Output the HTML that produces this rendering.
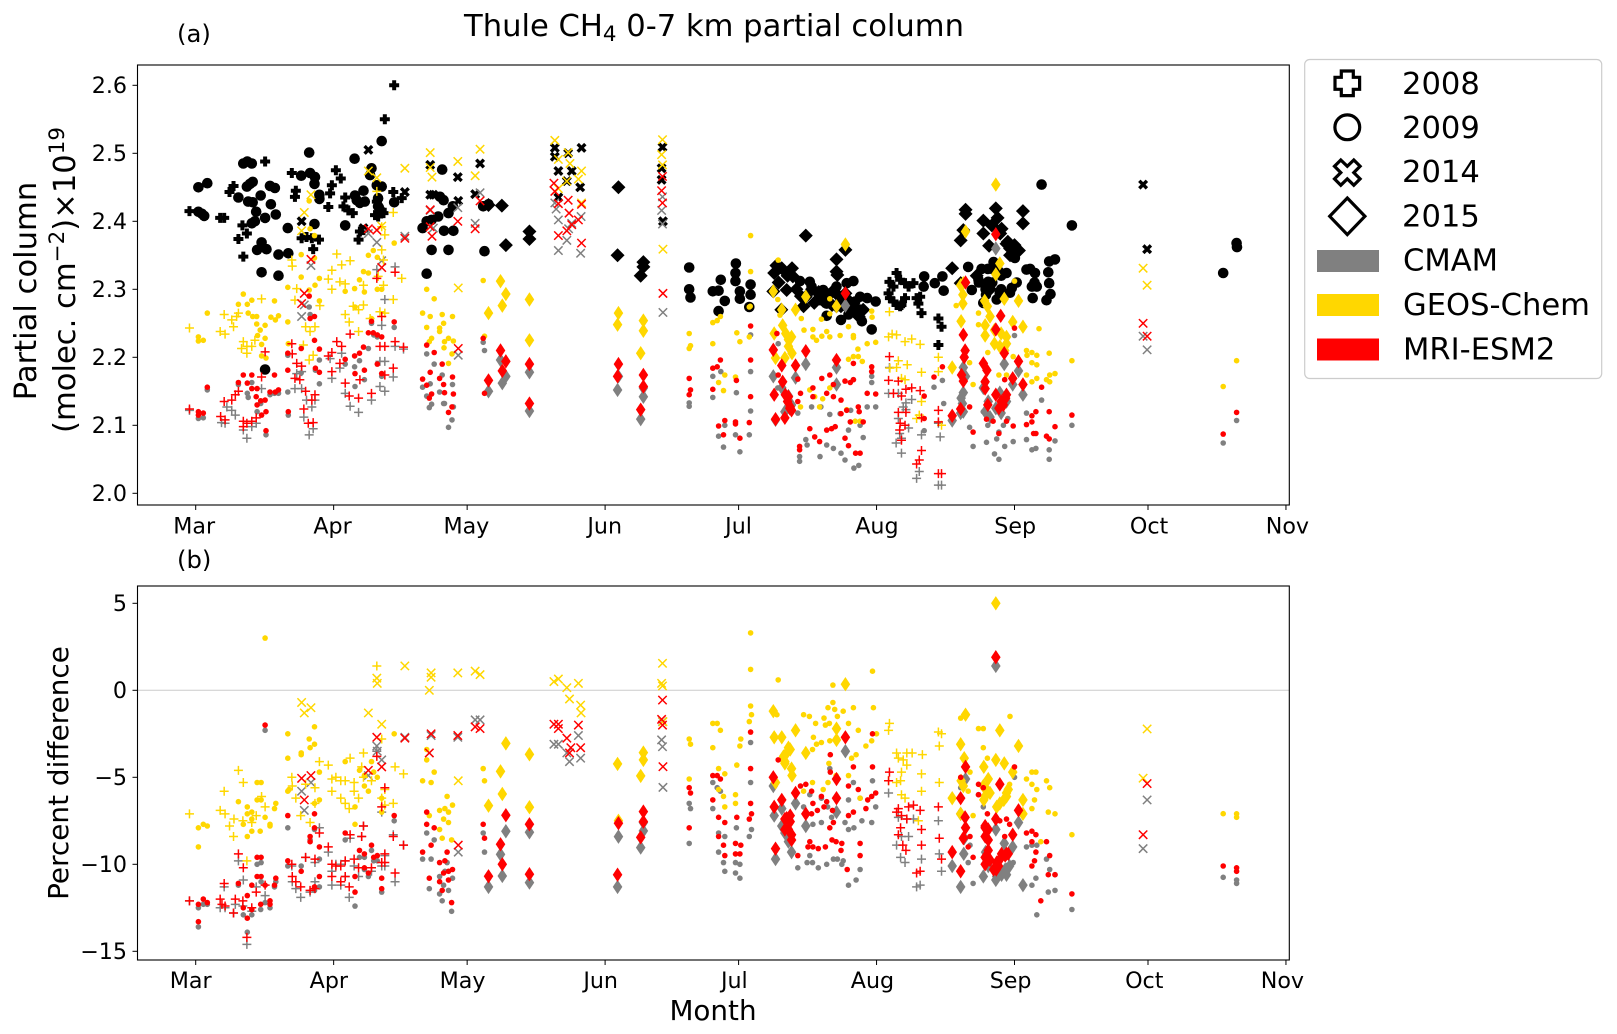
<!DOCTYPE html>
<html lang="en">
<head>
<meta charset="utf-8">
<title>Thule CH4 0-7 km partial column</title>
<style>
html,body{margin:0;padding:0;background:#fff;}
svg{display:block;font-family:"DejaVu Sans","Liberation Sans",sans-serif;}
</style>
</head>
<body>
<svg id="chart" xmlns="http://www.w3.org/2000/svg" width="1617" height="1034" viewBox="0 0 1617 1034">
  <rect x="0" y="0" width="1617" height="1034" fill="#fff"/>
  <text x="714" y="36" font-size="30.6" text-anchor="middle">Thule CH<tspan font-size="21.4" dy="5">4</tspan><tspan dy="-5"> 0-7 km partial column</tspan></text>
  <text x="177" y="42" font-size="24.3">(a)</text>
  <text x="177" y="568" font-size="24.3">(b)</text>
  <text transform="translate(36,291) rotate(-90)" font-size="30.6" text-anchor="middle">Partial column</text>
  <text transform="translate(75,280) rotate(-90)" font-size="30.6" text-anchor="middle">(molec. cm<tspan font-size="21.4" dy="-11">−2</tspan><tspan dy="11">)×10</tspan><tspan font-size="21.4" dy="-11">19</tspan></text>
  <text transform="translate(68,773) rotate(-90)" font-size="27.9" text-anchor="middle">Percent difference</text>
  <text x="713" y="1020" font-size="27.8" text-anchor="middle">Month</text>
  <g id="panelA"></g>
  <g id="panelB"></g>
  <g>
    <rect x="1304.7" y="59.5" width="297" height="319" rx="5" ry="5" fill="#fff" stroke="#ccc" stroke-width="1.2"/>
    <path d="M1341.3 71h12v6.3h6.3v12h-6.3v6.3h-12v-6.3h-6.3v-12h6.3z" fill="#fff" stroke="#000" stroke-width="3.2"/>
    <circle cx="1347.3" cy="127.3" r="12.4" fill="#fff" stroke="#000" stroke-width="3.2"/>
    <path d="M1340.8 160l6.5 6.3 6.5-6.3 6.3 6.3-6.3 6.3 6.3 6.3-6.3 6.3-6.5-6.3-6.5 6.3-6.3-6.3 6.3-6.3-6.3-6.3z" fill="#fff" stroke="#000" stroke-width="3.2"/>
    <path d="M1347.3 198l17.6 18.3-17.6 18.3-17.6-18.3z" fill="#fff" stroke="#000" stroke-width="3.2"/>
    <rect x="1317" y="250" width="62" height="22" fill="#808080"/>
    <rect x="1317" y="294" width="62" height="22" fill="#ffd700"/>
    <rect x="1317" y="338.5" width="62" height="22" fill="#ff0000"/>
    <text x="1402" y="94" font-size="30.6">2008</text>
    <text x="1402" y="138" font-size="30.6">2009</text>
    <text x="1402" y="182" font-size="30.6">2014</text>
    <text x="1402" y="226.5" font-size="30.6">2015</text>
    <text x="1403" y="270.5" font-size="30.6">CMAM</text>
    <text x="1403" y="315" font-size="30.6">GEOS-Chem</text>
    <text x="1403" y="359.5" font-size="30.6">MRI-ESM2</text>
  </g>
</svg>
<script>
// Axis tick data
const monthLabels = ["Mar","Apr","May","Jun","Jul","Aug","Sep","Oct","Nov"];
const monthDays = [0,31,61,92,122,153,184,214,245];
const ticksA = [2.0,2.1,2.2,2.3,2.4,2.5,2.6];
const ticksB = [-15,-10,-5,0,5];

// All series are [days since 1 March, value]. Panel (a): partial column x 1e19.
const obs2008 = [[-1.4,2.415],[44.6,2.6],[42.5,2.55],[15.6,2.488],[21.6,2.471],[31.5,2.475],[32.6,2.463],[30.6,2.453],[8.5,2.452],[7.6,2.443],[30.2,2.441],[22.5,2.445],[22.3,2.436],[33.6,2.435],[33.2,2.422],[34.3,2.416],[35.3,2.412],[29.8,2.421],[44.4,2.443],[46.3,2.434],[5.5,2.405],[6.4,2.405],[11.5,2.382],[10.5,2.394],[9.6,2.374],[10.7,2.348],[23.8,2.375],[24.9,2.377],[26.1,2.375],[27.7,2.373],[26.4,2.359],[36.9,2.385],[36.6,2.373],[37.7,2.387],[40.3,2.409],[42.2,2.412],[41,2.407],[40.7,2.429],[41.8,2.417],[155.9,2.311],[157.5,2.324],[158.3,2.314],[159.4,2.309],[161.3,2.309],[155.7,2.294],[157.5,2.277],[158.6,2.277],[159.4,2.287],[162.8,2.289],[162.4,2.279],[163.1,2.265],[166.9,2.257],[167.6,2.245],[166.9,2.218],[156.8,2.304],[156,2.287],[156.8,2.282],[158.3,2.275],[160.2,2.304],[162,2.287]];
const obs2009 = [[0.6,2.45],[2.6,2.456],[0.6,2.414],[1.4,2.411],[1.9,2.408],[10.7,2.485],[11.6,2.488],[12.6,2.485],[11.5,2.451],[12.2,2.455],[12.8,2.458],[9.6,2.435],[11.8,2.429],[12.8,2.428],[14.6,2.438],[16.9,2.425],[16.7,2.452],[17.8,2.449],[18,2.41],[13.6,2.414],[13.3,2.4],[15.6,2.405],[12.6,2.397],[14.8,2.369],[13.8,2.358],[15.9,2.359],[14.8,2.325],[18.6,2.351],[20.8,2.353],[18.6,2.32],[20.7,2.39],[25.5,2.501],[23.7,2.467],[25.7,2.471],[26.8,2.465],[26.7,2.455],[27.8,2.439],[27.8,2.433],[26.7,2.396],[35.7,2.492],[41.8,2.518],[33.6,2.394],[35.8,2.438],[36.2,2.431],[37.7,2.445],[38,2.429],[36.9,2.427],[39.5,2.478],[39.2,2.468],[40.7,2.453],[41.8,2.451],[41,2.434],[41,2.422],[41.4,2.417],[44.6,2.428],[51.9,2.323],[53,2.358],[51,2.39],[51.9,2.4],[53,2.402],[54.5,2.407],[56.8,2.412],[57.8,2.422],[55.4,2.476],[54.9,2.436],[55.7,2.431],[55.8,2.386],[57.9,2.386],[56.8,2.358],[64.9,2.356],[64.6,2.422],[65.8,2.425],[15.6,2.182],[110.9,2.332],[110.9,2.3],[111.2,2.288],[116.2,2.297],[118,2.314],[117.5,2.298],[118.9,2.283],[117.5,2.268],[121.4,2.338],[121.3,2.324],[121.3,2.312],[122.3,2.297],[122.3,2.286],[124.7,2.307],[124.7,2.292],[124.4,2.274],[135.8,2.312],[138,2.311],[138.4,2.304],[139.9,2.294],[141,2.299],[142.5,2.294],[144,2.304],[146.3,2.309],[147.8,2.312],[140.3,2.284],[141.8,2.279],[141.8,2.261],[145,2.255],[146.7,2.263],[149.3,2.289],[148.2,2.282],[149.3,2.27],[149.7,2.253],[151.9,2.241],[150.9,2.287],[152.8,2.282],[163.7,2.319],[163.6,2.304],[166.1,2.309],[167.8,2.319],[168.1,2.298],[173.6,2.333],[176.6,2.33],[179.3,2.34],[174.4,2.299],[175.9,2.314],[178.1,2.311],[177.6,2.292],[177,2.28],[180.7,2.294],[182.2,2.324],[183.4,2.302],[184.1,2.346],[186.7,2.329],[188.6,2.324],[187.9,2.304],[189,2.304],[188.1,2.287],[191.8,2.341],[193.1,2.344],[191.6,2.325],[191.8,2.309],[192.1,2.293],[191.2,2.284],[190.1,2.454],[196.9,2.394],[233.9,2.368],[234,2.362],[230.9,2.324],[178,2.33],[179,2.33],[180,2.325],[181,2.32],[176,2.31],[179,2.31],[181,2.3],[183,2.295],[177.5,2.3],[180,2.285],[184.5,2.31],[187.5,2.33],[188.5,2.31]];
const obs2014 = [[23.8,2.4],[38.8,2.505],[52.7,2.483],[58.9,2.465],[63.9,2.485],[62.8,2.44],[59,2.43],[52.7,2.439],[47,2.443],[80.7,2.508],[83.7,2.5],[86.7,2.508],[81.5,2.474],[84.5,2.474],[83.4,2.459],[86.4,2.45],[81.5,2.435],[80.7,2.495],[37.7,2.39],[53.4,2.439],[104.9,2.509],[104.7,2.478],[104.7,2.461],[105,2.4],[212.9,2.454],[213.8,2.359]];
const obs2015 = [[65.8,2.424],[68.8,2.423],[69.7,2.365],[75,2.385],[75,2.374],[95,2.45],[94.8,2.35],[100.6,2.34],[100.6,2.333],[100,2.32],[137.1,2.379],[146,2.358],[144,2.344],[144,2.326],[144.2,2.321],[130,2.324],[131.7,2.331],[134,2.331],[134.2,2.319],[132.8,2.299],[129.8,2.297],[131.6,2.27],[136.6,2.275],[137.1,2.289],[146,2.294],[144,2.275],[146,2.276],[173,2.417],[173,2.411],[179.8,2.419],[180.2,2.405],[177,2.401],[185.9,2.415],[185.9,2.397],[177,2.382],[178.9,2.394],[181.1,2.389],[182.2,2.367],[184.5,2.358],[171.9,2.372],[172.5,2.387],[170,2.331],[171.9,2.309],[183,2.36],[180.8,2.382],[178.3,2.364],[175.5,2.32],[180,2.33],[178.5,2.3],[138.5,2.3],[140,2.296],[141.5,2.292],[143,2.296],[144.5,2.29],[146.5,2.285],[148,2.27],[150,2.27],[139,2.28],[141,2.283],[143,2.277],[145,2.275],[147,2.27],[149,2.26],[182.5,2.37],[184,2.365],[185,2.357],[183,2.35],[133,2.32],[131,2.31],[135,2.3],[136,2.29],[130.5,2.335]];

const cmam2008A = [[-1.4,2.122],[5.8,2.104],[6.6,2.103],[7,2.127],[8.1,2.122],[8.9,2.115],[14.8,2.154],[10.7,2.093],[11.5,2.081],[12.6,2.098],[13.6,2.103],[22.7,2.176],[23.8,2.179],[22.3,2.154],[23.8,2.154],[24.3,2.112],[24.9,2.137],[26.8,2.137],[26.1,2.127],[26.4,2.095],[25.5,2.086],[30.2,2.198],[30.6,2.169],[32.8,2.206],[32.4,2.184],[33.6,2.147],[34.7,2.128],[36.6,2.119],[39.5,2.137],[41.4,2.194],[42.5,2.194],[41.8,2.247],[42.5,2.285],[40.7,2.329],[44.8,2.333],[44.8,2.216],[46.7,2.212],[44.4,2.171],[41.4,2.157],[42.5,2.15],[155.9,2.185],[155.7,2.147],[157.9,2.147],[159.6,2.133],[160.9,2.138],[159,2.127],[157.9,2.11],[159.6,2.123],[158.2,2.088],[160.2,2.096],[158.6,2.081],[157.4,2.074],[158.6,2.059],[163.1,2.086],[162.6,2.032],[162,2.022],[166.9,2.012],[167.6,2.012],[166.9,2.103],[167.3,2.083]];
const geos2008A = [[-1.4,2.243],[6.4,2.263],[5.5,2.238],[6.6,2.234],[8.1,2.255],[8.5,2.245],[9.2,2.26],[9.6,2.265],[10.7,2.223],[10.3,2.213],[11.5,2.206],[11.5,2.216],[12.6,2.216],[13.3,2.225],[14.8,2.286],[21.6,2.343],[21.7,2.334],[31.7,2.352],[34.7,2.342],[32.8,2.336],[30.6,2.328],[29.8,2.315],[32.4,2.311],[33.6,2.308],[30.6,2.3],[37.7,2.306],[41.8,2.358],[42.2,2.343],[42.5,2.38],[44.4,2.413],[40.7,2.444],[41.8,2.392],[46.3,2.316],[44.4,2.285],[27.9,2.276],[22.7,2.301],[22.3,2.284],[24.2,2.218],[24.7,2.245],[26.8,2.245],[25.7,2.238],[26.4,2.203],[25.5,2.196],[37.7,2.277],[35.4,2.275],[33.6,2.263],[34.5,2.252],[36.6,2.27],[36.6,2.238],[39.2,2.257],[41.4,2.267],[42.5,2.265],[42.2,2.306],[41,2.319],[155.9,2.267],[155.7,2.23],[156.5,2.234],[157.5,2.233],[160.9,2.227],[159.4,2.223],[162.8,2.219],[157.9,2.195],[159.9,2.189],[157.5,2.185],[156,2.184],[166.9,2.2],[166.9,2.179],[163.1,2.178],[158.6,2.169],[159.4,2.167],[163.1,2.135],[162.6,2.115],[162,2.11],[167.6,2.1]];
const mri2008A = [[-1.4,2.124],[5.6,2.113],[6.6,2.108],[6.4,2.135],[8.1,2.137],[8.9,2.145],[9.6,2.15],[10.7,2.106],[10.7,2.098],[11.5,2.103],[12.6,2.106],[13.6,2.111],[14.8,2.171],[15.6,2.208],[21.6,2.22],[21.7,2.205],[22.7,2.191],[23.8,2.187],[22.3,2.169],[23.4,2.167],[24.7,2.15],[26.8,2.145],[26.1,2.137],[24.3,2.124],[26.4,2.104],[25.3,2.103],[30.6,2.207],[29.8,2.202],[30.6,2.179],[31.7,2.223],[32.8,2.216],[32.4,2.191],[33.6,2.162],[34.7,2.234],[34.5,2.143],[36.6,2.14],[36.9,2.167],[39.5,2.147],[41.4,2.216],[42.5,2.216],[41.8,2.26],[40.7,2.316],[44.8,2.325],[44.8,2.223],[46.7,2.215],[44.4,2.184],[42.5,2.174],[155.9,2.201],[155.7,2.166],[157.9,2.165],[156.8,2.147],[160.9,2.155],[159.6,2.153],[162.8,2.151],[158.6,2.143],[157.9,2.119],[159.6,2.119],[163.1,2.111],[166.9,2.122],[166.9,2.105],[158.3,2.103],[159.4,2.1],[158.2,2.093],[158.6,2.078],[163.1,2.063],[162.6,2.049],[162,2.043],[166.9,2.029],[167.6,2.029]];

const cmam2009A = [[2.6,2.152],[0.6,2.11],[1.7,2.111],[9.6,2.16],[11.6,2.147],[12.6,2.163],[13.8,2.12],[11.8,2.141],[14.6,2.132],[15.8,2.086],[17.7,2.147],[16.7,2.145],[18.6,2.147],[20.8,2.115],[20.7,2.149],[20.7,2.203],[23.7,2.177],[25.7,2.263],[27.8,2.196],[26.9,2.181],[27.8,2.161],[25.5,2.274],[33.6,2.19],[35.7,2.186],[36.8,2.195],[38.8,2.213],[40,2.233],[40.8,2.23],[37.9,2.167],[41.8,2.172],[35.8,2.157],[39.5,2.25],[44.6,2.244],[51,2.156],[51.9,2.205],[53.6,2.19],[52.7,2.161],[55.4,2.174],[57.7,2.16],[51.9,2.143],[54.8,2.149],[55.7,2.132],[53,2.131],[52.5,2.126],[55.9,2.132],[57.9,2.127],[56.8,2.097],[57.6,2.108],[64.6,2.222],[64.9,2.21],[110.9,2.133],[110.9,2.128],[116.2,2.172],[116.2,2.141],[118,2.179],[117.5,2.084],[118.9,2.1],[118.6,2.068],[121.5,2.148],[121.3,2.086],[122.3,2.061],[124.7,2.179],[124.4,2.086],[124.7,2.121],[124.7,2.233],[130.9,2.22],[130.8,2.155],[135.3,2.118],[135.7,2.054],[135.7,2.047],[137.1,2.079],[137.4,2.071],[140.3,2.054],[141.8,2.071],[143.3,2.066],[145,2.059],[145.9,2.049],[147.9,2.037],[149,2.041],[138.4,2.127],[140.5,2.127],[142.5,2.116],[144.8,2.117],[147.2,2.122],[150,2.082],[150.9,2.127],[152.8,2.127],[151.9,2.172],[151.9,2.163],[147.8,2.167],[146.7,2.093],[149.3,2.1],[163.7,2.092],[165.9,2.156],[167.8,2.166],[168.1,2.132],[174.7,2.069],[173.9,2.097],[177.7,2.075],[179.5,2.058],[180.5,2.05],[181.8,2.069],[183.7,2.076],[184,2.232],[186.7,2.118],[186.7,2.079],[187.9,2.064],[188.8,2.066],[190.1,2.137],[191.8,2.05],[191.8,2.064],[193.1,2.077],[196.9,2.1],[230.9,2.074],[233.9,2.107],[180.5,2.09],[181.5,2.1],[182.5,2.11],[180,2.08],[177,2.12],[178,2.1]];
const geos2009A = [[2.6,2.265],[0.6,2.23],[0.6,2.224],[1.7,2.225],[9.6,2.278],[10.7,2.293],[11.6,2.278],[12.6,2.284],[11.8,2.265],[12.8,2.26],[13.7,2.26],[13.7,2.249],[15.6,2.247],[14.5,2.24],[13.9,2.232],[15.6,2.228],[14.8,2.219],[14.8,2.202],[15.8,2.199],[16.9,2.259],[17.7,2.283],[17.9,2.255],[18.6,2.261],[20.7,2.252],[20.7,2.303],[20.8,2.22],[23.7,2.351],[23.7,2.318],[25.5,2.43],[25.7,2.389],[26.7,2.379],[26.7,2.346],[27.8,2.316],[26.8,2.306],[25.5,2.299],[27.8,2.283],[33.6,2.297],[35.7,2.301],[36.8,2.314],[37.7,2.326],[38.8,2.324],[37.9,2.296],[40.8,2.3],[41.8,2.3],[38.8,2.35],[39.9,2.357],[40.8,2.347],[44.6,2.368],[35.8,2.274],[39.5,2.257],[51,2.265],[51.9,2.3],[53.6,2.286],[52.7,2.26],[55.4,2.263],[57.7,2.26],[51.9,2.244],[54.8,2.243],[55.7,2.25],[54.8,2.238],[53,2.228],[52.5,2.223],[55.9,2.223],[57.9,2.224],[56.8,2.228],[55.8,2.214],[57.6,2.205],[56.8,2.191],[64.6,2.313],[64.9,2.231],[124.7,2.379],[124.7,2.326],[124.4,2.274],[124.6,2.275],[110.9,2.235],[111.2,2.217],[110.9,2.213],[116.2,2.251],[117.2,2.254],[117.9,2.26],[116.2,2.22],[121.6,2.236],[122.3,2.223],[118.9,2.174],[117.5,2.163],[118.6,2.151],[121.3,2.171],[124.4,2.23],[130.9,2.343],[130.8,2.285],[131.3,2.262],[136.7,2.24],[136.1,2.257],[140.6,2.256],[142.5,2.286],[142.5,2.264],[146.7,2.245],[147.8,2.232],[144.8,2.232],[142.5,2.23],[141.8,2.238],[140.7,2.231],[138.7,2.241],[138.7,2.23],[139.5,2.225],[151.9,2.268],[152,2.259],[150.9,2.22],[152.8,2.222],[147.8,2.229],[148.8,2.212],[146.7,2.197],[147.8,2.201],[148.9,2.201],[149.8,2.194],[138,2.152],[139.1,2.142],[140.9,2.139],[142.5,2.155],[140.2,2.127],[135.9,2.127],[146.3,2.123],[149.3,2.106],[148.2,2.106],[170.9,2.276],[189.5,2.242],[175.9,2.265],[175.9,2.248],[184,2.312],[178,2.207],[173.9,2.192],[174.7,2.16],[180.5,2.174],[182.2,2.174],[183.7,2.201],[186.7,2.21],[186.8,2.203],[187.9,2.207],[189,2.203],[187.9,2.192],[189,2.189],[186.7,2.174],[187.9,2.164],[189,2.169],[191.2,2.167],[191.9,2.164],[191.9,2.174],[193.1,2.176],[191.8,2.206],[196.9,2.195],[230.9,2.157],[233.9,2.195]];
const mri2009A = [[2.6,2.156],[0.6,2.12],[0.6,2.115],[1.7,2.118],[9.6,2.163],[10.7,2.174],[12.6,2.174],[11.6,2.162],[12.6,2.154],[13.8,2.154],[13.6,2.142],[15.6,2.137],[14.6,2.136],[13.8,2.13],[15.8,2.12],[14.8,2.115],[15.8,2.092],[17.7,2.174],[16.7,2.149],[17.9,2.149],[18.6,2.152],[20.8,2.12],[20.7,2.206],[20.7,2.181],[23.7,2.213],[25.7,2.257],[26.7,2.26],[26.7,2.225],[27.8,2.212],[26.9,2.184],[27.8,2.178],[25.5,2.29],[33.6,2.197],[35.7,2.202],[36.8,2.206],[37.7,2.215],[38.8,2.236],[39.9,2.236],[40.8,2.233],[41.8,2.23],[37.9,2.181],[40.8,2.19],[41.8,2.176],[44.6,2.252],[35.8,2.176],[39.5,2.253],[51,2.168],[51.9,2.218],[53.6,2.207],[52.7,2.178],[55.4,2.19],[57.7,2.171],[51.9,2.159],[54.8,2.169],[55.7,2.16],[53,2.146],[52.5,2.14],[55.9,2.148],[57.9,2.146],[56.8,2.119],[57.6,2.127],[64.6,2.228],[64.9,2.147],[124.7,2.196],[124.7,2.246],[124.7,2.142],[124.4,2.104],[110.9,2.169],[111.2,2.152],[110.9,2.145],[116.2,2.184],[117.2,2.186],[117.9,2.196],[116.2,2.153],[117.5,2.099],[118.9,2.107],[118.6,2.086],[121.5,2.166],[121.3,2.105],[121.3,2.102],[122.3,2.081],[130.9,2.174],[130.6,2.235],[135.3,2.168],[135.3,2.135],[135.9,2.147],[135.7,2.069],[135.7,2.064],[138.7,2.155],[138.7,2.142],[140.7,2.169],[142.5,2.174],[143.3,2.16],[141.8,2.147],[143.3,2.142],[145,2.137],[145.9,2.165],[147.1,2.163],[147.8,2.191],[147.8,2.167],[151.9,2.186],[151.9,2.179],[150.9,2.147],[152.8,2.146],[145,2.117],[146.3,2.122],[147.1,2.105],[148.9,2.127],[149.1,2.12],[150,2.105],[138,2.095],[139.1,2.083],[140.2,2.076],[141.8,2.093],[142.9,2.095],[143.7,2.098],[145.9,2.081],[146.7,2.07],[148.3,2.059],[149.3,2.059],[165.9,2.171],[167.8,2.186],[163.7,2.143],[163.7,2.11],[181,2.127],[173.9,2.127],[174.7,2.09],[177.7,2.109],[179.2,2.106],[180.5,2.088],[182.2,2.106],[183.7,2.099],[184,2.243],[181.8,2.167],[186.7,2.101],[187.9,2.114],[188.8,2.12],[187.9,2.105],[188.8,2.088],[188.3,2.088],[190.1,2.156],[191.2,2.084],[191.8,2.12],[191.8,2.08],[193.1,2.098],[196.9,2.115],[230.9,2.087],[233.9,2.119]];

const cmam2014A = [[23.8,2.26],[24.4,2.277],[25.9,2.335],[38.8,2.382],[40.7,2.369],[41.8,2.342],[47,2.378],[52.7,2.416],[53.4,2.39],[58.9,2.42],[59,2.203],[62.8,2.397],[63.9,2.442],[80.7,2.427],[81,2.418],[81.5,2.402],[86.6,2.407],[84.5,2.397],[83.8,2.389],[83.4,2.372],[81.5,2.357],[86.5,2.353],[104.9,2.436],[104.7,2.416],[104.9,2.396],[105,2.266],[212.9,2.231],[213.8,2.211]];
const geos2014A = [[23.8,2.386],[24.4,2.413],[25.9,2.439],[38.8,2.474],[40.7,2.464],[41.8,2.393],[47,2.478],[52.7,2.501],[52.7,2.479],[53.1,2.465],[58.9,2.488],[59,2.302],[62.8,2.467],[63.9,2.506],[80.7,2.519],[81.5,2.491],[83.7,2.501],[84.1,2.485],[86.7,2.474],[86,2.462],[83.4,2.459],[81.5,2.448],[86.7,2.427],[104.9,2.52],[104.7,2.498],[104.9,2.483],[105,2.359],[212.9,2.331],[213.8,2.306]];
const mri2014A = [[23.8,2.279],[24.4,2.294],[25.9,2.344],[38.8,2.389],[40.7,2.387],[41.8,2.332],[47,2.375],[52.7,2.417],[52.7,2.392],[53.1,2.378],[58.9,2.4],[59,2.213],[62.8,2.389],[63.9,2.43],[80.5,2.456],[80.7,2.444],[81.5,2.426],[83.7,2.431],[83.9,2.412],[86.7,2.425],[86,2.402],[84.5,2.395],[83.4,2.386],[81.5,2.379],[86.7,2.368],[104.9,2.466],[104.7,2.445],[104.9,2.427],[105,2.294],[212.9,2.25],[213.8,2.231]];

const cmam2015A = [[65.8,2.15],[68.5,2.196],[69.7,2.172],[68.9,2.162],[75,2.178],[75,2.121],[95,2.172],[94.8,2.152],[100.6,2.142],[100.6,2.155],[100,2.109],[146,2.276],[129.8,2.172],[130.3,2.108],[131.7,2.155],[132.4,2.12],[133.2,2.143],[133.9,2.13],[134.8,2.17],[137.1,2.19],[144,2.185],[144,2.16],[170,2.107],[171.9,2.118],[172.5,2.185],[173,2.172],[172.5,2.148],[172.3,2.132],[177,2.155],[177.4,2.12],[178.1,2.135],[179.8,2.36],[179.8,2.125],[180.7,2.148],[181.7,2.19],[182.2,2.135],[183.6,2.16],[184.9,2.18],[185.9,2.145],[172,2.14],[172.5,2.12],[178.5,2.112],[181,2.118]];
const geos2015A = [[65.8,2.265],[68.5,2.312],[69.7,2.293],[68.9,2.276],[75,2.285],[75,2.225],[95,2.265],[94.8,2.248],[100.6,2.254],[100.6,2.239],[100,2.206],[137.1,2.289],[146,2.366],[129.8,2.297],[131.7,2.27],[134.8,2.27],[144,2.275],[130,2.235],[131.9,2.247],[133.2,2.226],[133.9,2.23],[133.2,2.216],[134,2.206],[132.4,2.199],[130.3,2.199],[179.8,2.454],[173,2.385],[172.5,2.309],[171.9,2.306],[172.4,2.292],[172.4,2.279],[172,2.253],[170,2.185],[177.9,2.275],[177.3,2.283],[181.7,2.286],[184.9,2.283],[180.7,2.338],[179.8,2.322],[183.6,2.252],[185.9,2.245],[177.4,2.247],[177.4,2.232],[179.5,2.22],[182.2,2.23],[182.2,2.22],[180.7,2.216],[179.5,2.24],[181,2.235],[181.8,2.21],[178.5,2.26],[132.6,2.235]];
const mri2015A = [[65.8,2.166],[68.5,2.21],[69.7,2.194],[68.9,2.18],[75,2.19],[75,2.132],[95,2.19],[94.8,2.172],[100.6,2.174],[100.6,2.157],[100,2.123],[146,2.294],[129.8,2.211],[137.1,2.209],[131.7,2.188],[134.8,2.188],[144,2.196],[131.9,2.164],[130,2.145],[133.2,2.142],[133.6,2.127],[133.9,2.122],[130.3,2.109],[132.4,2.111],[179.8,2.381],[173,2.31],[172.5,2.233],[172.9,2.21],[172.7,2.2],[172.1,2.174],[172.5,2.165],[170,2.114],[171.9,2.124],[180.9,2.261],[179.8,2.241],[181.7,2.206],[184.9,2.194],[183.6,2.169],[185.9,2.16],[177,2.191],[177.8,2.181],[177.4,2.164],[177.4,2.154],[179.8,2.145],[182.2,2.145],[181,2.135],[180.5,2.125],[181.5,2.13],[182,2.14],[178,2.13],[132.5,2.145],[133,2.135],[133.5,2.125]];

// Panel (b): percent difference
const cmam2008B = [[-1.4,-12.1],[5.5,-12.5],[6.4,-11.3],[6.6,-12.5],[8.5,-12.8],[8.9,-12.3],[9.6,-9.8],[10.7,-10.9],[10.6,-12.4],[11.5,-14.6],[12.6,-12.7],[13.6,-11.3],[15.6,-11.8],[21.6,-10.1],[21.7,-11],[22.5,-11.4],[23.6,-11.9],[24.7,-9.6],[25.7,-11.6],[26.8,-9.9],[26.8,-11],[27.8,-7.9],[29.8,-9.3],[30.6,-10.4],[30.6,-11.2],[31.5,-10],[32.6,-10],[32.6,-11.2],[33.6,-9.8],[33.6,-10.7],[34.5,-11.9],[34.7,-8.5],[35.6,-10.1],[36.6,-10.7],[37.7,-7.8],[37.3,-8.4],[39.5,-10.4],[40.7,-3.5],[41.8,-7],[42.5,-9.5],[41.8,-10.1],[42.5,-10.1],[44.4,-8.3],[44.8,-11],[46.7,-8.9],[155.7,-5.9],[157.9,-7.3],[157.5,-8.9],[159.8,-7.4],[161.3,-7.4],[158.6,-8.4],[160.2,-8.4],[158.4,-9.6],[159.4,-9.9],[163.1,-9.7],[166.9,-7.5],[167.1,-9.4],[167.6,-10.4],[162,-11.3],[162.8,-11.2]];
const geos2008B = [[-1.4,-7.1],[6.4,-5.8],[5.5,-6.9],[6.6,-7.1],[7.6,-7.8],[8.6,-7.4],[8.5,-8.4],[9.6,-4.6],[10.7,-5.3],[10.6,-7.5],[11.5,-9.8],[12.6,-7.6],[13.6,-7.2],[14.8,-6.1],[15.6,-6.7],[21.6,-5],[21.7,-5.5],[22.5,-6.2],[23.6,-7.2],[24.7,-5.4],[25.7,-7.6],[26.8,-5.6],[26.8,-6.5],[27.8,-4.1],[29.8,-4.3],[30.6,-5.8],[30.6,-5.1],[31.5,-5],[32.6,-5.2],[33.6,-5.2],[32.6,-6.2],[33.6,-6.5],[34.5,-6.8],[34.7,-3.9],[35.6,-5.3],[35.6,-5.8],[36.6,-6.2],[37.7,-3.6],[37.3,-4.4],[37.7,-5],[39.5,-5.2],[40.7,1.4],[41.8,-2.8],[42.5,-5.7],[41.8,-6.2],[42.5,-6.6],[44.4,-6.5],[44.8,-4.4],[46.7,-4.8],[155.9,-1.9],[155.7,-2.3],[157.5,-3.6],[157.9,-3.9],[159,-4],[159.8,-4.3],[159.8,-3.6],[161,-3.6],[163.3,-3.7],[158.6,-4.7],[155.7,-5.2],[157.5,-5.3],[158.4,-5.2],[163.1,-4.8],[163.1,-5.8],[158.6,-6],[159.4,-6.2],[166.9,-2.4],[167.6,-2.5],[167.1,-3.2],[167.1,-5.3],[162.4,-7.5]];
const mri2008B = [[-1.4,-12.1],[5.5,-12],[6.4,-11.1],[5.9,-12.3],[6.6,-12.4],[8.5,-12.8],[8.9,-12],[9.6,-9.4],[10.7,-10.2],[10.6,-12.1],[11.5,-14.2],[12.6,-12.5],[13.6,-11.6],[15.6,-11.2],[21.6,-10],[21.7,-10.7],[22.5,-11],[23.6,-11.3],[24.7,-9.6],[25.7,-11.5],[26.8,-9.7],[26.8,-11.4],[27.8,-8.2],[29.8,-9],[30.6,-10],[30.6,-10.7],[31.5,-10.1],[32.6,-10.1],[32.6,-11],[33.6,-9.8],[33.6,-10.7],[34.5,-11.3],[34.7,-8.3],[35.6,-9.7],[36.6,-10.2],[37.7,-7.8],[37.3,-8.4],[39.5,-10.2],[40.7,-3.8],[41.8,-6.7],[42.5,-5.6],[42.5,-9.4],[41.8,-9.9],[42.5,-9.9],[44.4,-8.4],[44.8,-10.5],[46.7,-8.9],[155.9,-4.7],[155.7,-5.2],[157.9,-6.8],[157.5,-7],[160.2,-6.7],[161.3,-6.6],[162.8,-6.9],[158.6,-7.2],[159.8,-7.4],[158.4,-7.9],[157.9,-8.3],[158.9,-8.9],[159.6,-9.2],[163.1,-8],[163.1,-8.9],[166.9,-6.7],[167.1,-8.5],[167.6,-9.7],[162,-10.5],[162.8,-10.4]];

const cmam2009B = [[15.6,-2.3],[20.7,-7.9],[26.7,-8],[25.7,-8.6],[23.7,-10.1],[27.8,-9.7],[14.7,-9.9],[13.8,-10],[20.7,-10.1],[14.7,-11],[9.6,-11.2],[11.6,-13.9],[10.7,-12.9],[12.6,-12.9],[15.6,-12.2],[0.6,-12.5],[2.6,-12.3],[1.7,-12.3],[0.6,-13.6],[14.6,-12.6],[16.7,-12.5],[17.7,-11.3],[18,-11],[27.8,-11.3],[26.7,-11.5],[33.6,-8.6],[35.8,-12.4],[37.9,-9.6],[36.8,-9.6],[37.9,-10.3],[39.5,-9.2],[40,-9.8],[40.8,-9.8],[38.8,-10.7],[41.8,-11.6],[44.6,-7.5],[51,-9.7],[51.9,-8.2],[52.9,-9.7],[53.6,-8.6],[52.5,-11.4],[54.8,-11.7],[55.4,-12.1],[55.7,-11.2],[54.8,-10.7],[56,-10.4],[56.8,-11.5],[57.7,-10.8],[56.5,-9.9],[57.5,-12.7],[64.6,-8.2],[64.9,-9.3],[124.7,-3],[124.7,-5.3],[124.9,-8],[124.4,-8.4],[121.5,-7.9],[122.3,-10],[121.3,-9.9],[121.3,-10.5],[122.3,-10.8],[116.2,-6.8],[116.2,-5.3],[117.2,-5.6],[117.9,-5.8],[110.9,-6.5],[111.2,-6.8],[110.9,-8.8],[117.5,-8.2],[118.9,-8.4],[117.5,-9.3],[118.6,-9.9],[118.9,-10.4],[135.3,-10.2],[138,-9.5],[137.4,-9.9],[138.6,-9.9],[139.9,-10.2],[141.8,-10],[143.3,-9.7],[144.2,-9.7],[145.5,-9.8],[145.2,-10],[149.3,-10.3],[146.7,-11.2],[148.4,-10.9],[152.1,-5.2],[152.8,-6.7],[151.9,-7.6],[149.7,-7.5],[147.9,-7.9],[146.7,-8],[138.7,-7.7],[140.6,-7.6],[142.9,-7.3],[142,-6.7],[145.9,-7.6],[142.5,-4.5],[147.8,-5.3],[146.7,-6.3],[149.3,-6.2],[136.6,-6.7],[138,-6],[140.6,-6.2],[184,-5],[171.9,-5.6],[175.9,-6],[177,-6.7],[174.7,-11.1],[173.6,-9.9],[174,-8.9],[177.9,-8],[181.8,-9.5],[183.7,-9.9],[186.7,-9],[187.9,-8.9],[189,-8.9],[187.9,-11.2],[188.8,-10.8],[191.6,-11.6],[193.1,-11.5],[189,-12.9],[196.9,-12.6],[191.2,-9.7],[191.9,-10.3],[193.1,-10.6],[230.9,-10.75],[233.9,-11.1],[233.9,-10.9]];
const geos2009B = [[15.6,3],[20.7,-2.5],[23.7,-3.6],[20.7,-3.9],[26.7,-2.1],[25.5,-2.8],[26.7,-3.1],[25.7,-3.3],[23.7,-3.7],[27.8,-4.7],[13.8,-5.3],[14.7,-5.3],[21,-5.7],[20.7,-5.8],[13.8,-6.3],[14.7,-6.3],[9.6,-6.4],[11.6,-6.7],[12.6,-7],[11.6,-7.1],[10.7,-7.7],[12.6,-7.4],[15.6,-7.3],[1.7,-7.7],[2.6,-7.8],[0.6,-7.9],[0.6,-9],[11.6,-8.4],[12.6,-8.1],[14.5,-8.1],[16.7,-7.7],[16.7,-7.8],[17.7,-6.8],[18,-6.5],[26.7,-6.5],[27.8,-6.3],[33.6,-4.1],[35.8,-6.7],[37.9,-5.5],[36.8,-4.6],[37.9,-4.9],[39.5,-4.1],[40,-4.7],[40.8,-5],[38.8,-5.8],[41.8,-6.2],[41.8,-7],[44.6,-2.5],[35.8,-7.7],[51,-5.2],[51.9,-3.4],[51.9,-4],[52.9,-5.3],[53.6,-4.7],[52.5,-7.2],[54.8,-8],[55.4,-8.5],[55.7,-7.4],[54.8,-6.9],[56,-6.8],[56.8,-7],[56.8,-7.6],[57.7,-6.6],[56.5,-6.1],[57.5,-8.6],[64.6,-4.5],[64.9,-5.2],[124.7,3.3],[124.7,1.2],[124.7,-0.9],[124.9,-1.4],[124.4,-1.8],[122.5,-2.8],[122.3,-3.2],[116.2,-3.3],[116.2,-1.9],[117.2,-1.9],[117.9,-2.3],[110.9,-2.8],[111.2,-3.1],[110.9,-5.1],[121.6,-4.3],[118.9,-4.8],[117.5,-4.5],[117.5,-5.7],[118.6,-6.1],[118.9,-6.7],[121.3,-6],[121.3,-6.5],[130.9,0.6],[130.6,-1.4],[136.6,-1.4],[137.9,-1.5],[139.3,-1.9],[141.5,-2],[142.4,-1.9],[141.2,-1.6],[142.1,-1],[143.2,-0.7],[143.6,-1.1],[144.2,-1.5],[143.2,0.3],[145.5,-1.2],[146.7,-1.9],[147.8,-1],[148.9,-2.3],[152.1,1.1],[152.3,-1],[153,-2.5],[151.9,-2.9],[150.6,-3.2],[148.4,-3.7],[147.4,-3.9],[138.8,-2.7],[140.6,-3],[139.5,-3.1],[138.6,-3.4],[142.5,-2.9],[142.3,-4.2],[143.9,-4.9],[142.1,-5.3],[141,-5.7],[138.6,-5.3],[136.6,-5.8],[146.7,-4.9],[149.3,-6.2],[183,-1.5],[171.9,-1.6],[175.9,-2.2],[177,-2.2],[177,-3.3],[177.9,-3.9],[173.6,-5.8],[174,-4.7],[182.9,-5.4],[186.7,-5.1],[187.9,-4.7],[188.8,-4.7],[187.9,-5.4],[189,-5.7],[188.5,-6.3],[187.9,-6.8],[191.2,-5.2],[191.9,-5.6],[191.6,-7],[193.1,-7.1],[196.9,-8.3],[189.9,-8.7],[174.7,-7.2],[230.9,-7.09],[233.9,-7.3],[233.9,-7.1]];
const mri2009B = [[15.6,-2],[20.7,-7.2],[23.7,-10.4],[26.7,-7.1],[26.7,-7.9],[25.7,-8.4],[25.7,-8.7],[27.8,-9],[14.7,-9.6],[13.8,-9.6],[20.7,-9.8],[13.8,-10.7],[14.7,-10.7],[9.6,-11.1],[11.6,-11.8],[12.6,-11.2],[11.6,-13.1],[10.7,-12.5],[12.6,-12.6],[15.6,-11.2],[0.6,-12.3],[1.7,-12],[2.6,-12.2],[0.6,-13.3],[14.6,-12.3],[16.7,-12.1],[16.7,-12.3],[17.7,-11.2],[18,-10.8],[26.7,-11.3],[27.8,-10.7],[33.6,-8.2],[35.8,-10.7],[35.8,-11.6],[37.9,-9.4],[36.8,-9.2],[37.9,-10.2],[39.5,-8.9],[40,-9.6],[40.8,-9.5],[38.8,-10.5],[41.8,-11.4],[41.8,-10.8],[44.6,-7.2],[51,-9.3],[51.9,-7],[51.9,-7.7],[52.9,-8.9],[53.6,-7.9],[52.5,-10.8],[54.8,-11],[55.4,-11.5],[55.7,-10.5],[54.8,-9.9],[56,-9.8],[56.8,-10.4],[56.8,-10.9],[57.7,-10.3],[56.5,-9.3],[57.5,-12.2],[64.6,-7.7],[64.9,-8.5],[124.7,-2.4],[124.7,-4.5],[124.7,-6.5],[124.9,-7.1],[124.4,-7.4],[122.5,-8.9],[122.3,-9.4],[116.2,-6.3],[116.2,-4.9],[117.2,-4.9],[117.9,-5.1],[110.9,-5.6],[111.2,-5.9],[110.9,-7.9],[121.6,-7.3],[118.9,-7.6],[117.5,-7.3],[117.5,-8.4],[118.6,-8.9],[118.9,-9.5],[121.3,-8.8],[121.3,-9.4],[130.9,-4],[135.9,-5.5],[137.1,-5.4],[138.4,-5.8],[140.6,-6.1],[141.8,-6.4],[142.6,-4.7],[142.6,-3.7],[143.1,-6.9],[141.2,-6.7],[139.7,-6.9],[138.4,-7.1],[147.8,-4.4],[146.7,-5.5],[148.9,-5.7],[152.1,-2.5],[152.1,-4.4],[152.8,-5.9],[151.9,-6.1],[150.6,-6.8],[151,-6.3],[147.8,-7],[146.7,-7.2],[138.7,-6.5],[142.5,-7.9],[143.3,-7.6],[135.3,-9.5],[138,-8.7],[137.6,-9],[138.7,-9],[139.9,-9.1],[141.5,-9],[143,-8.6],[143.9,-8.7],[145.2,-8.8],[145,-9.2],[149.3,-8.8],[149.3,-9.5],[146.4,-10.3],[184,-4.4],[171.9,-5],[175.9,-5.4],[177,-5.6],[175.9,-6],[177.9,-7.1],[173.6,-9],[174,-8.4],[182.2,-7.4],[180.7,-7.5],[181.8,-8.4],[182.9,-7.7],[186.7,-8.2],[187.9,-8.1],[188.8,-8.3],[187.9,-8.7],[188.8,-9.3],[188.5,-9.8],[187.9,-10.1],[191.2,-8.7],[191.9,-9.5],[191.6,-10.6],[193.1,-10.6],[196.9,-11.7],[189.9,-12.1],[174.7,-9.6],[230.9,-10.1],[233.9,-10.4],[233.9,-10.2]];

const cmam2014B = [[23.8,-5.8],[24.4,-6.9],[25.9,-5.3],[38.8,-4.9],[40.7,-3.2],[40.8,-3.5],[41.8,-4],[47,-2.7],[52.5,-3.6],[52.9,-2.6],[58.9,-2.7],[59,-9.3],[62.8,-1.7],[63.9,-1.7],[80.5,-3.1],[81.5,-3.1],[83.4,-3.6],[84,-4.1],[86,-2.6],[86.5,-3.9],[104.9,-1.8],[104.7,-2.85],[104.9,-3.24],[105,-5.58],[212.9,-9.1],[213.8,-6.3]];
const geos2014B = [[23.8,-0.7],[24.4,-1.3],[25.9,-1],[38.8,-1.3],[40.7,0.7],[40.8,0.4],[41.8,-1.95],[47,1.4],[52.5,0],[52.9,1],[52.9,0.75],[58.9,1],[59,-5.2],[62.8,1.1],[63.9,0.9],[80.5,0.5],[81.5,0.65],[83.4,0.15],[84,-0.5],[86,0.4],[86.5,-0.85],[86.6,-1.3],[104.9,1.55],[104.7,0.4],[104.9,0.25],[105,-1.8],[212.9,-5.05],[213.8,-2.22]];
const mri2014B = [[23.8,-5.06],[24.4,-6.3],[25.9,-4.9],[38.8,-4.6],[40.7,-2.7],[41.8,-4.4],[47,-2.75],[52.5,-3.6],[52.9,-2.5],[58.9,-2.6],[59,-8.9],[62.8,-2.1],[63.9,-2.2],[80.5,-1.95],[81.5,-1.95],[81.5,-2.2],[83.4,-2.75],[84,-3.6],[84.3,-3.3],[86,-2],[86.5,-3.3],[104.9,-0.56],[104.7,-1.67],[104.9,-2],[105,-4.39],[212.9,-8.3],[213.8,-5.36]];

const cmam2015B = [[65.8,-11.3],[68.5,-9.43],[69.7,-8.1],[68.9,-10.67],[75,-8.16],[75,-11.05],[95,-8.41],[94.8,-11.3],[100.6,-8.08],[100.6,-7.6],[100,-9.04],[146,-3.5],[129.8,-5.5],[130,-7.2],[131.7,-6.8],[134.8,-6.5],[137.1,-7.8],[144,-7],[132.4,-8.2],[133.2,-8.7],[133.9,-9.3],[130.3,-9.7],[179.8,1.4],[173,-5.1],[171.9,-7.1],[179.8,-8],[184.9,-7.6],[183.6,-9],[172.7,-8.5],[172.6,-9.4],[170,-10.1],[171.9,-11.3],[177,-10.7],[177.5,-9.3],[179.8,-10.9],[182.2,-10.3],[181.7,-8.8],[185.9,-11.2],[178.1,-10.1],[181.1,-10.6],[182.2,-10.6],[182.9,-10.1],[181.9,-10.3],[180,-10.7],[131.7,-7.8],[133.6,-8.5]];
const geos2015B = [[65.8,-6.63],[68.5,-4.66],[69.7,-3.05],[68.9,-5.96],[75,-3.68],[75,-6.72],[95,-7.5],[94.8,-4.23],[100.6,-3.58],[100.6,-4],[100,-4.92],[146,0.35],[179.8,5],[129.8,-1.2],[130,-2.7],[131.7,-2.7],[134.8,-2.3],[137.1,-3.6],[144,-2.2],[144,-2.85],[132.4,-4.1],[132.8,-3.6],[133.6,-3.4],[133.9,-4.5],[134,-4.9],[130.3,-5.3],[173,-1.4],[171.9,-3.1],[180.7,-2.3],[184.9,-3.2],[179.8,-4],[181.7,-4.2],[183.6,-4.7],[172.7,-3.9],[172,-5.2],[172.5,-5.5],[170,-6.2],[177.1,-4.4],[178.1,-5.1],[177.1,-6.3],[177.7,-5.7],[182.2,-5.9],[180,-6.7],[185.9,-6.3],[185.9,-7.1],[171.9,-7.1],[177,-5.5],[178.5,-5.9],[181.6,-6.3],[182.2,-6.1],[180.7,-6.5],[182.6,-5.7],[177.4,-6.1],[132.1,-3.8],[133.2,-3.3],[132.4,-4.2]];
const mri2015B = [[65.8,-10.69],[68.5,-8.85],[69.7,-7.18],[68.9,-10],[75,-7.7],[75,-10.57],[95,-7.64],[94.8,-10.6],[100.6,-6.97],[100.6,-7.55],[100,-8.45],[146,-2.7],[179.8,1.9],[129.8,-5],[130,-6.7],[131.7,-6.3],[134.8,-5.9],[137.1,-7.1],[144,-5.1],[144,-6.2],[132.4,-7.4],[133.6,-7.2],[132.4,-8],[133.9,-8.6],[130.3,-9.1],[173,-4.4],[171.9,-6.2],[180.7,-5.4],[179.8,-7.4],[184.9,-6.9],[183.6,-8.3],[172.9,-7.3],[173,-7.9],[172.5,-8.5],[170,-9.3],[171.9,-10.4],[177.4,-7.9],[178.1,-8.6],[177.4,-10],[182.2,-9.4],[181,-9.6],[179.9,-10.3],[177.4,-8.4],[178.1,-9.2],[177.4,-9.6],[178.5,-9.75],[180,-9.9],[181.1,-9.4],[181.9,-9.5],[182.6,-9.4],[179.3,-10.3],[180.4,-10.1],[177.4,-7.8],[178.1,-8],[132.8,-7.35],[133.6,-7.55],[133.2,-8],[133.9,-8.3]];

// Axis functions
function xA(day){ return 195.7 + 4.45*day; }
function yA(v){ return 493.3 - (v-2)*680; }
function yB(v){ return 690.3 - v*17.4; }

const NS = "http://www.w3.org/2000/svg";
function make(parent, tag, attrs){
  const el = document.createElementNS(NS, tag);
  for (const k in attrs) el.setAttribute(k, attrs[k]);
  parent.appendChild(el);
  return el;
}

function markerShape(year, big, color, parent, cx, cy){
  let el;
  if (year === 2009){
    el = make(parent, "circle", {cx:cx.toFixed(1), cy:cy.toFixed(1), r: big?5.3:2.8, fill:color});
  } else if (year === 2008){
    if (big){
      const a=5,b=2;
      el = make(parent, "path", {fill:color, d:`M${cx-b} ${cy-a}h${2*b}v${a-b}h${a-b}v${2*b}h${b-a}v${a-b}h${-2*b}v${b-a}h${b-a}v${-2*b}h${a-b}z`});
    } else {
      const a=4.5;
      el = make(parent, "path", {fill:"none", stroke:color, "stroke-width":1.5, d:`M${cx-a} ${cy}h${2*a}M${cx} ${cy-a}v${2*a}`});
    }
  } else if (year === 2014){
    if (big){
      const a=5,b=2.4;
      el = make(parent, "path", {fill:color, d:`M${cx-a+b} ${cy-a}L${cx} ${cy-b}L${cx+a-b} ${cy-a}L${cx+a} ${cy-a+b}L${cx+b} ${cy}L${cx+a} ${cy+a-b}L${cx+a-b} ${cy+a}L${cx} ${cy+b}L${cx-a+b} ${cy+a}L${cx-a} ${cy+a-b}L${cx-b} ${cy}L${cx-a} ${cy-a+b}z`});
    } else {
      const a=4.2;
      el = make(parent, "path", {fill:"none", stroke:color, "stroke-width":1.5, d:`M${cx-a} ${cy-a}l${2*a} ${2*a}M${cx-a} ${cy+a}l${2*a} ${-2*a}`});
    }
  } else {
    const w = big?7:4.8, h = big?7:7.2;
    el = make(parent, "path", {fill:color, d:`M${cx} ${cy-h}L${cx+w} ${cy}L${cx} ${cy+h}L${cx-w} ${cy}z`});
  }
  return el;
}

function drawSeries(parent, data, year, big, color, yFn, name){
  const g = make(parent, "g", {});
  
  
  data.forEach(function(p){
    const mark = markerShape(year, big, color, g, xA(p[0]), yFn(p[1]));
    
    
  });
}

function drawAxes(parent, top, bottom, ticks, yFn, tickFmt, labelOffset, labelDrift, labelY, panel){
  const left = 137.5, right = 1289.3;
  ticks.forEach(function(t){
    const y = yFn(t);
    const tk = make(parent, "line", {x1:left-5, x2:left, y1:y, y2:y, stroke:"#000", "stroke-width":1});
    
    
    const lb = make(parent, "text", {x:left-10.5, y:y+7.7, "font-size":22.2, "text-anchor":"end"});
    lb.textContent = tickFmt(t);
    
    
  });
  monthDays.forEach(function(d,i){
    const x = xA(d);
    const tk = make(parent, "line", {x1:x, x2:x, y1:bottom, y2:bottom+5, stroke:"#000", "stroke-width":1});
    
    
    const lb = make(parent, "text", {x:x+labelOffset+labelDrift*d, y:labelY, "font-size":22.2, "text-anchor":"middle"});
    lb.textContent = monthLabels[i];
    
    
  });
  const fr = make(parent, "rect", {x:left, y:top, width:right-left, height:bottom-top, fill:"none", stroke:"#000", "stroke-width":1.1});
  
  
}

const panelA = document.getElementById("panelA");
const panelB = document.getElementById("panelB");
const grey = "#808080", gold = "#ffd700", red = "#ff0000", black = "#000000";

// Panel (a): observations first, then models on top
drawSeries(panelA, obs2008, 2008, true, black, yA, "ftir-2008");
drawSeries(panelA, obs2009, 2009, true, black, yA, "ftir-2009");
drawSeries(panelA, obs2014, 2014, true, black, yA, "ftir-2014");
drawSeries(panelA, obs2015, 2015, true, black, yA, "ftir-2015");
drawSeries(panelA, cmam2008A, 2008, false, grey, yA, "cmam-2008");
drawSeries(panelA, cmam2009A, 2009, false, grey, yA, "cmam-2009");
drawSeries(panelA, cmam2014A, 2014, false, grey, yA, "cmam-2014");
drawSeries(panelA, cmam2015A, 2015, false, grey, yA, "cmam-2015");
drawSeries(panelA, geos2008A, 2008, false, gold, yA, "geos-chem-2008");
drawSeries(panelA, geos2009A, 2009, false, gold, yA, "geos-chem-2009");
drawSeries(panelA, geos2014A, 2014, false, gold, yA, "geos-chem-2014");
drawSeries(panelA, geos2015A, 2015, false, gold, yA, "geos-chem-2015");
drawSeries(panelA, mri2008A, 2008, false, red, yA, "mri-esm2-2008");
drawSeries(panelA, mri2009A, 2009, false, red, yA, "mri-esm2-2009");
drawSeries(panelA, mri2014A, 2014, false, red, yA, "mri-esm2-2014");
drawSeries(panelA, mri2015A, 2015, false, red, yA, "mri-esm2-2015");
drawAxes(panelA, 65, 505, ticksA, yA, function(t){return t.toFixed(1);}, -1.5, 0.012, 533.5, "panel-a");

// Panel (b)
const zeroLine = make(panelB, "line", {x1:137.5, x2:1289.3, y1:yB(0), y2:yB(0), stroke:"#cccccc", "stroke-width":1});


drawSeries(panelB, cmam2008B, 2008, false, grey, yB, "cmam-2008-diff");
drawSeries(panelB, cmam2009B, 2009, false, grey, yB, "cmam-2009-diff");
drawSeries(panelB, cmam2014B, 2014, false, grey, yB, "cmam-2014-diff");
drawSeries(panelB, cmam2015B, 2015, false, grey, yB, "cmam-2015-diff");
drawSeries(panelB, geos2008B, 2008, false, gold, yB, "geos-chem-2008-diff");
drawSeries(panelB, geos2009B, 2009, false, gold, yB, "geos-chem-2009-diff");
drawSeries(panelB, geos2014B, 2014, false, gold, yB, "geos-chem-2014-diff");
drawSeries(panelB, geos2015B, 2015, false, gold, yB, "geos-chem-2015-diff");
drawSeries(panelB, mri2008B, 2008, false, red, yB, "mri-esm2-2008-diff");
drawSeries(panelB, mri2009B, 2009, false, red, yB, "mri-esm2-2009-diff");
drawSeries(panelB, mri2014B, 2014, false, red, yB, "mri-esm2-2014-diff");
drawSeries(panelB, mri2015B, 2015, false, red, yB, "mri-esm2-2015-diff");
drawAxes(panelB, 586, 960, ticksB, yB, function(t){return t<0 ? "\u2212"+Math.abs(t) : String(t);}, -5, 0.006, 988, "panel-b");
</script>
</body>
</html>
